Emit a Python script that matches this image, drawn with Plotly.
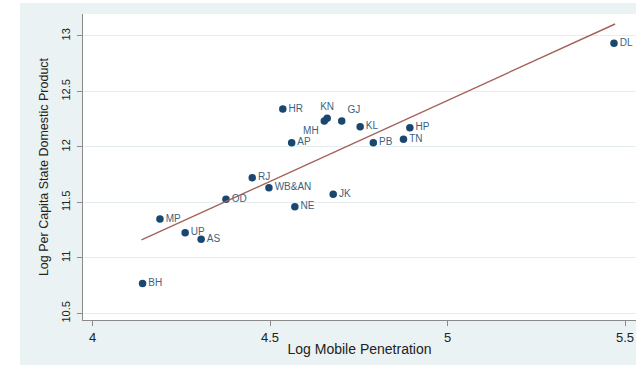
import plotly.graph_objects as go

# Telecom circles: log mobile penetration vs log per-capita state domestic product
circles = ["HR", "KN", "MH", "GJ", "KL", "AP", "PB", "TN", "HP", "RJ",
           "WB&AN", "OD", "NE", "JK", "MP", "UP", "AS", "BH", "DL"]
log_mobile = [4.536, 4.661, 4.653, 4.702, 4.754, 4.561, 4.791, 4.876, 4.894, 4.450,
              4.497, 4.376, 4.570, 4.678, 4.190, 4.261, 4.306, 4.141, 5.469]
log_psdp = [12.342, 12.259, 12.234, 12.234, 12.183, 12.039, 12.039, 12.069, 12.174, 11.723,
            11.633, 11.529, 11.462, 11.574, 11.351, 11.228, 11.168, 10.769, 12.934]
label_pos = ["middle right", "top center", "bottom left", "top right", "middle right",
             "middle right", "middle right", "middle right", "middle right", "middle right",
             "middle right", "middle right", "middle right", "middle right", "middle right",
             "middle right", "middle right", "middle right", "middle right"]

# Linear fit line endpoints
fit_x = [4.138, 5.472]
fit_y = [11.162, 13.108]

x_ticks = [4, 4.5, 5, 5.5]
x_tick_text = ["4", "4.5", "5", "5.5"]
y_ticks = [10.5, 11, 11.5, 12, 12.5, 13]
y_tick_text = ["10.5", "11", "11.5", "12", "12.5", "13"]

FONT = "Liberation Sans, Arial, Helvetica, sans-serif"
NAVY = "#1a476f"

fig = go.Figure()
fig.add_trace(go.Scatter(
    x=log_mobile, y=log_psdp, mode="markers+text",
    text=circles, textposition=label_pos,
    marker=dict(color=NAVY, size=7.5),
    textfont=dict(family=FONT, size=10, color="#3d5f80"),
    cliponaxis=False, showlegend=False, hoverinfo="skip",
))
fig.add_trace(go.Scatter(
    x=fit_x, y=fit_y, mode="lines",
    line=dict(color="#a5625a", width=1.4),
    showlegend=False, hoverinfo="skip",
))

# White margins around the light bluish-gray graph region
white_strips = [
    dict(x0=-0.3, x1=-0.1139, y0=-0.3, y1=1.2),
    dict(x0=-0.3, x1=1.2, y0=1.0359, y1=1.2),
    dict(x0=-0.3, x1=1.2, y0=-0.3, y1=-0.147),
]
for s in white_strips:
    fig.add_shape(type="rect", xref="paper", yref="paper", layer="above",
                  fillcolor="white", line=dict(width=0), **s)

fig.update_layout(
    width=636, height=367,
    margin=dict(l=83, r=0, t=14, b=47, autoexpand=False),
    paper_bgcolor="#eaf2f3",
    plot_bgcolor="white",
    font=dict(family=FONT, color="#222222"),
    xaxis=dict(
        range=[3.9732, 5.5310], tickvals=x_ticks, ticktext=x_tick_text,
        showgrid=False, zeroline=False, showline=True, linecolor="#8a8a8a", linewidth=1,
        ticks="outside", ticklen=5, tickcolor="#8a8a8a",
        tickfont=dict(family=FONT, size=13, color="#222222"),
        title=dict(text="Log Mobile Penetration", font=dict(family=FONT, size=14, color="#222222"),
                   standoff=0),
        automargin=False,
    ),
    yaxis=dict(
        range=[10.441, 13.198], tickvals=y_ticks, ticktext=y_tick_text,
        showgrid=True, gridcolor="#e4eef0", gridwidth=1,
        zeroline=False, showline=True, linecolor="#8a8a8a", linewidth=1,
        ticks="outside", ticklen=5, tickcolor="#8a8a8a", tickangle=-90,
        ticklabelstandoff=3,
        tickfont=dict(family=FONT, size=11, color="#222222"),
        title=dict(text="Log Per Capita State Domestic Product",
                   font=dict(family=FONT, size=12.5, color="#222222"), standoff=8),
        automargin=False,
    ),
)

fig.write_html("out.html")
